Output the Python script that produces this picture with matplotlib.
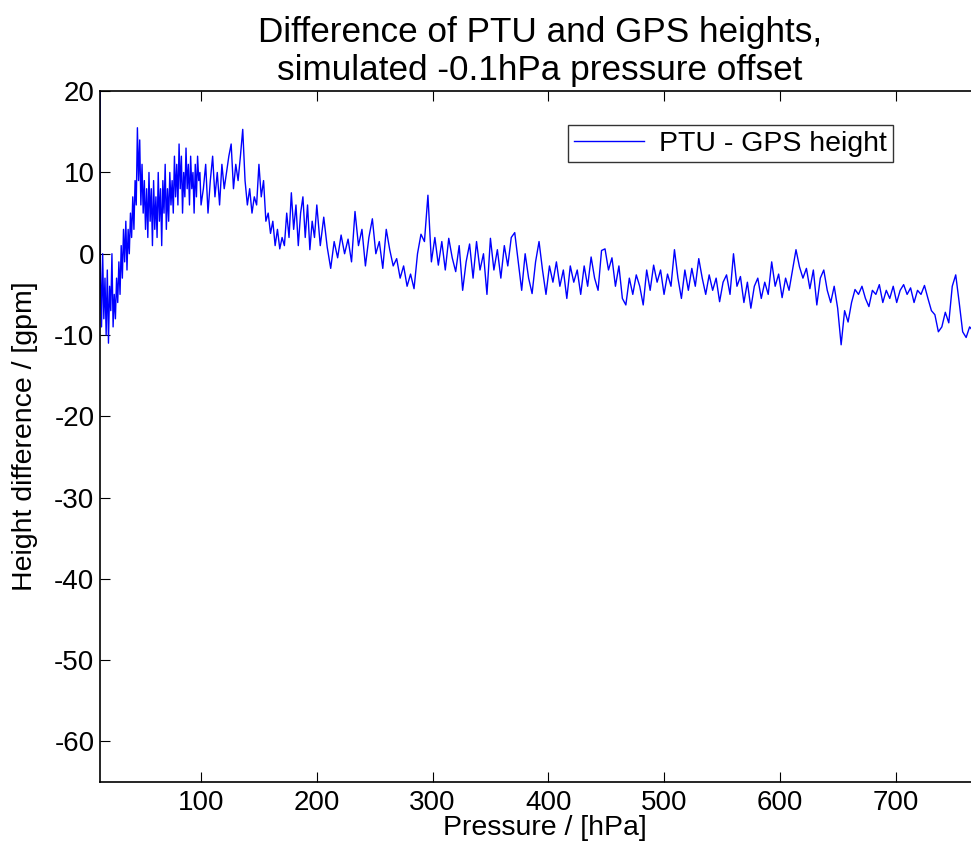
import numpy as np
import matplotlib.pyplot as plt

plt.rcParams['font.family'] = ['Liberation Sans Narrow', 'Liberation Sans', 'DejaVu Sans']
plt.rcParams['axes.unicode_minus'] = False

# first sample sits above the plot, at the lowest pressure
start_p = 12.7
start_h = 30.0

# 13 .. 100 hPa, every 1 hPa
h_a = [-1, -9, 0, -8, -3, -10, -2, -11, -4, -7, 0, -9, -5,
       -8, -3, -6, -1, -5, 1, -3, 3, -1, 4, -2, 3, 0, 5,
       2, 7, 3, 9, 6,
       15.5,
       9, 14, 6, 11, 5, 9, 3, 8, 2, 10, 4, 8, 1, 9, 3,
       7, 2, 10, 4, 8, 1, 9, 5, 11, 3, 8, 4, 10, 6, 9,
       5, 12, 7, 11, 6, 13.5, 8, 12, 5, 10, 7, 13, 8,
       11, 6, 12, 8, 10, 5, 11, 7, 12, 9, 10, 6]

# 102 .. 200 hPa, every 2 hPa
h_b = [8, 11, 5, 9, 12, 7, 10, 6, 11, 8,
       10, 12, 13.5, 8, 11, 9, 12, 15.3, 9, 6,
       8, 5, 7, 6, 11, 7, 9, 4, 5, 2.5,
       4, 1, 3, 0.6, 2, 1, 5, 2, 7.5, 3,
       6, 1, 5, 7, 2, 6, 0.5, 4, 2, 6]

# 203 .. 773 hPa, every 3 hPa
h_c = [1, 4.5, 0.8, -1.8, 1.5, -0.5, 2.3, 0, 1.8, -1,
       5.2, 1, 3, -1.5, 2, 4.3, 0, 1.5, -1.8, 3,
       0.5, -1.5, -0.6, -3, -1.5, -4, -2.5, -4.3, 0, 2.4,
       1.5, 7.2, -1, 2, -1.4, 1.5, -2, 1.9, -0.5, -2.2,
       1, -4.5, -1, 1.2, -3, 1.5, -2, 0, -5, 1.9,
       -2, 0.5, -3, 1, -1.5, 2, 2.6, -1, -4.5, 0,
       -3, -4.9, -1, 1.5, -2, -5, -1.5, -3.5, -1, -4,
       -2, -5.5, -1.5, -3.5, -2, -5, -1.5, -4, -0.4, -3,
       -4.5, 0.4, 0.6, -2, -0.5, -4, -1.5, -5.5, -6.3, -3,
       -5, -2.6, -4, -6.3, -2, -4.5, -1.4, -3.5, -2, -5,
       -2.5, -4, 0.5, -3, -5.5, -2, -4.5, -1.8, -4, -0.6,
       -3, -5, -2.6, -4.5, -3, -5.9, -3.5, -2.6, -5, 0,
       -4, -2.8, -6, -3.5, -6.7, -4, -3, -5.5, -3.5, -5,
       -1, -4, -2.5, -5.4, -3, -4.5, -2, 0.5, -1.6, -3,
       -1.8, -4.3, -2, -6.3, -3, -2, -4.5, -6, -4, -6.7,
       -11.2, -7, -8.4, -6, -4.4, -5, -4, -5.5, -6.5, -4.5,
       -5, -3.8, -6, -4.5, -5.5, -4, -6, -4.5, -3.8, -5,
       -4.2, -6, -4.5, -5, -3.9, -5.5, -7, -7.5, -9.6, -9,
       -7.2, -8.5, -4, -2.6, -6, -9.6, -10.3, -9, -9.5, -10,
       -9]

pressure = np.concatenate([[start_p], np.arange(13, 101, 1),
                           np.arange(102, 201, 2), np.arange(203, 774, 3)])
height = np.concatenate([[start_h], h_a, h_b, h_c])

fig = plt.figure(figsize=(9.71, 8.41), dpi=100)
ax = fig.add_axes([0.103, 0.070, 0.9063, 0.8216])

ax.plot(pressure, height, color='#0000ff', linewidth=1.0, label='PTU - GPS height')

ax.set_xlim(12.7, 773)
ax.set_ylim(-65, 20)
ax.set_xticks(np.arange(100, 701, 100))
ax.set_yticks(np.arange(-60, 21, 10))

ax.tick_params(direction='in', length=7, width=0.8, labelsize=20,
               top=True, right=False, pad=6)
ax.tick_params(axis='y', pad=4)
for s in ax.spines.values():
    s.set_linewidth(1.2)

ax.set_title('Difference of PTU and GPS heights,\nsimulated -0.1hPa pressure offset',
             fontsize=25.3, linespacing=1.2, pad=8)
ax.set_xlabel('Pressure / [hPa]', fontsize=20.5)
ax.xaxis.set_label_coords(0.505, -0.047)
ax.set_ylabel('Height difference / [gpm]', fontsize=20.5)
ax.yaxis.set_label_coords(-0.071, 0.5)

leg = ax.legend(loc='upper right', bbox_to_anchor=(0.901, 0.951), borderaxespad=0,
                fontsize=20.5, fancybox=False, handlelength=2.45, handletextpad=0.55,
                borderpad=0.2)
leg.get_frame().set_edgecolor('black')
leg.get_frame().set_linewidth(1.0)

fig.savefig('out.png', dpi=100)
